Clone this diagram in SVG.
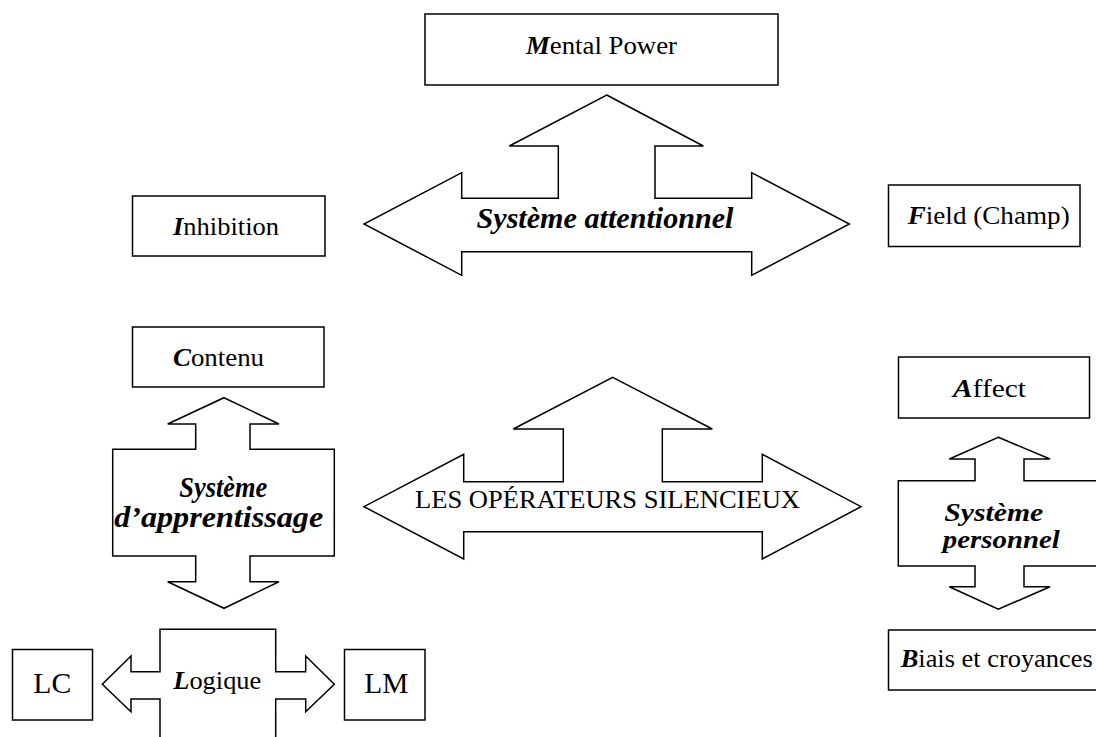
<svg xmlns="http://www.w3.org/2000/svg" width="1096" height="737" viewBox="0 0 1096 737">
<style>
.box{fill:#fff;stroke:#000;stroke-width:1.5}
.arr{fill:#fff;stroke:#000;stroke-width:1.5;stroke-linejoin:miter}
text{font-family:"Liberation Serif","Times New Roman",serif;fill:#000}
.t{font-size:26px}
.bi{font-weight:bold;font-style:italic}
.lab{font-size:30px;font-weight:bold;font-style:italic}
</style>
<rect width="1096" height="737" fill="#fff"/>
<g id="connectors">
<g id="systeme-attentionnel">
<path class="arr" d="M606.7,95 L703.3,146 L655,146 L655,198.3 L751.7,198.3 L751.7,172.7 L849.4,224 L751.7,275.3 L751.7,251.7 L461.7,251.7 L461.7,275.3 L364,224 L461.7,172.7 L461.7,198.3 L558.3,198.3 L558.3,146 L509.3,146 Z"/>
<text class="lab" x="605" y="228" text-anchor="middle" textLength="257" lengthAdjust="spacingAndGlyphs">Système attentionnel</text>
</g>
<g id="operateurs-silencieux">
<path class="arr" d="M612.7,377.3 L712.3,429 L662.3,429 L662.3,481.7 L762.3,481.7 L762.3,454.3 L861,506.7 L762.3,559 L762.3,531.7 L463.7,531.7 L463.7,559 L364,506.7 L463.7,454.3 L463.7,481.7 L563.3,481.7 L563.3,429 L513.3,429 Z"/>
<text class="t" x="607.5" y="508" text-anchor="middle" textLength="385" lengthAdjust="spacingAndGlyphs">LES OPÉRATEURS SILENCIEUX</text>
</g>
<g id="systeme-apprentissage">
<path class="arr" d="M224,397.7 L279,424 L250,424 L250,449.3 L334.3,449.3 L334.3,556 L250,556 L250,581.7 L279,581.7 L224,608.3 L167.7,581.7 L195.7,581.7 L195.7,556 L112.7,556 L112.7,449.3 L195.7,449.3 L195.7,424 L167.7,424 Z"/>
<text class="lab" x="223.3" y="497" text-anchor="middle" textLength="88" lengthAdjust="spacingAndGlyphs">Système</text>
<text class="lab" x="218.7" y="527" text-anchor="middle" textLength="209" lengthAdjust="spacingAndGlyphs">d’apprentissage</text>
</g>
<g id="systeme-personnel">
<path class="arr" d="M998.3,437.3 L1050,459 L1024,459 L1024,480.7 L1110,480.7 L1110,566 L1024,566 L1024,586.7 L1050,586.7 L998.3,609.3 L949.3,586.7 L975,586.7 L975,566 L898.3,566 L898.3,480.7 L975,480.7 L975,459 L949.3,459 Z"/>
<text class="lab" x="993.7" y="521" text-anchor="middle" textLength="99" lengthAdjust="spacingAndGlyphs" style="font-size:26px">Système</text>
<text class="lab" x="1001.3" y="548" text-anchor="middle" textLength="117" lengthAdjust="spacingAndGlyphs" style="font-size:26px">personnel</text>
</g>
<g id="logique">
<path class="arr" d="M160,629.3 L275.7,629.3 L275.7,671.7 L305.7,671.7 L305.7,656 L334.3,684.3 L305.7,711.7 L305.7,699 L275.7,699 L275.7,745 L160,745 L160,699 L131,699 L131,711.7 L102.3,684.3 L131,656 L131,671.7 L160,671.7 Z"/>
<text class="t" x="173.3" y="689" textLength="88" lengthAdjust="spacingAndGlyphs"><tspan class="bi">L</tspan>ogique</text>
</g>
</g>
<g id="mental-power">
<rect class="box" x="425" y="14" width="353" height="71"/>
<text class="t" x="526" y="54.3" textLength="151" lengthAdjust="spacingAndGlyphs"><tspan class="bi">M</tspan>ental Power</text>
</g>
<g id="inhibition">
<rect class="box" x="132.5" y="196" width="192.5" height="60"/>
<text class="t" x="173" y="235" textLength="106" lengthAdjust="spacingAndGlyphs"><tspan class="bi">I</tspan>nhibition</text>
</g>
<g id="field">
<rect class="box" x="888.5" y="185" width="191.5" height="61.5"/>
<text class="t" x="907.7" y="224" textLength="162" lengthAdjust="spacingAndGlyphs"><tspan class="bi">F</tspan>ield (Champ)</text>
</g>
<g id="contenu">
<rect class="box" x="132.5" y="327" width="191.5" height="60"/>
<text class="t" x="173" y="366" textLength="91" lengthAdjust="spacingAndGlyphs"><tspan class="bi">C</tspan>ontenu</text>
</g>
<g id="affect">
<rect class="box" x="898.5" y="357" width="191" height="61"/>
<text class="t" x="953" y="396.7" textLength="73" lengthAdjust="spacingAndGlyphs"><tspan class="bi">A</tspan>ffect</text>
</g>
<g id="biais">
<rect class="box" x="888.5" y="630" width="230" height="60"/>
<text class="t" x="900.7" y="666.7" textLength="192" lengthAdjust="spacingAndGlyphs"><tspan class="bi">B</tspan>iais et croyances</text>
</g>
<g id="lc">
<rect class="box" x="12.5" y="649.5" width="80" height="70.5"/>
<text class="t" x="33.3" y="692.7" textLength="38" lengthAdjust="spacingAndGlyphs" style="font-size:29px">LC</text>
</g>
<g id="lm">
<rect class="box" x="344.5" y="649.5" width="80.5" height="70.5"/>
<text class="t" x="364.3" y="692.7" textLength="44" lengthAdjust="spacingAndGlyphs" style="font-size:29px">LM</text>
</g>
</svg>
